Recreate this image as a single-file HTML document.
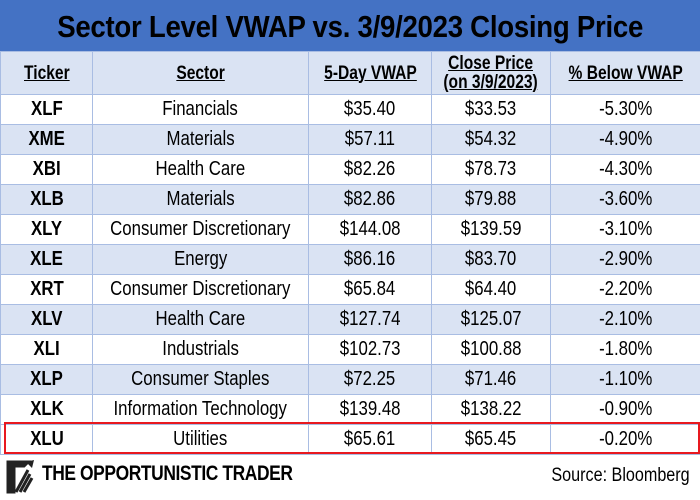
<!DOCTYPE html>
<html><head><meta charset="utf-8"><style>
body{margin:0;width:700px;height:500px;background:#fff;overflow:hidden;font-family:"Liberation Sans",sans-serif;}
#title{position:absolute;left:0;top:0;width:700px;height:51px;background:#4472c4;color:#000;font-weight:bold;font-size:31px;text-align:center;line-height:53px;letter-spacing:-0.3px}
#title span{display:inline-block;transform:scaleX(0.89)}
table{position:absolute;left:0;top:51px;border-collapse:collapse;width:700px;table-layout:fixed}
td,th{border:1px solid #a9bde3;text-align:center;padding:0;font-size:20px;color:#000;white-space:nowrap;overflow:visible}
th{background:#dae3f3;height:42px;font-weight:bold;font-size:19px;line-height:19px}
th span{text-decoration:underline;display:inline-block;transform:scaleX(0.82)}
td span{display:inline-block;transform:scaleX(0.84)}
td{height:29px;font-size:20px}
tr.alt td{background:#dae3f3}
td.t{font-weight:bold}
#hl{position:absolute;left:4px;top:422px;width:692px;height:28px;border:2px solid #e8191f;box-sizing:content-box}
#foot{position:absolute;left:0;top:452px;width:700px;height:48px}
#brand{position:absolute;left:42px;top:10px;font-weight:bold;font-size:21px;letter-spacing:-0.5px;transform:scaleX(0.83);transform-origin:left center;white-space:nowrap}
#src{position:absolute;right:10px;top:13px;font-size:19px;transform:scaleX(0.85);transform-origin:right center;white-space:nowrap}
</style></head><body>
<div id="title"><span>Sector Level VWAP vs. 3/9/2023 Closing Price</span></div>
<table>
<colgroup><col style="width:92px"><col style="width:216px"><col style="width:123px"><col style="width:119px"><col style="width:150px"></colgroup>
<tr>
<th><span>Ticker</span></th>
<th><span>Sector</span></th>
<th><span>5-Day VWAP</span></th>
<th><span>Close Price<br>(on 3/9/2023)</span></th>
<th><span>% Below VWAP</span></th></tr>
<tbody id="body"></tbody>
</table>
<div id="hl"></div>
<div id="foot">
<svg style="position:absolute;left:6px;top:6px" width="30" height="38" viewBox="0 0 30 38">
<path d="M2 4h20l-4 4H8v26H2z M10 34l12-22 M14 34l10-18 M18 34l8-14" stroke="#222" stroke-width="3" fill="#222"/>
<path d="M20 4l8-2-2 8z" fill="#222"/></svg>
<div id="brand">THE OPPORTUNISTIC TRADER</div>
<div id="src">Source: Bloomberg</div>
</div>
<script>
const tickers=["XLF","XME","XBI","XLB","XLY","XLE","XRT","XLV","XLI","XLP","XLK","XLU"];
const sectors=["Financials","Materials","Health Care","Materials","Consumer Discretionary","Energy","Consumer Discretionary","Health Care","Industrials","Consumer Staples","Information Technology","Utilities"];
const vwap=["$35.40","$57.11","$82.26","$82.86","$144.08","$86.16","$65.84","$127.74","$102.73","$72.25","$139.48","$65.61"];
const close=["$33.53","$54.32","$78.73","$79.88","$139.59","$83.70","$64.40","$125.07","$100.88","$71.46","$138.22","$65.45"];
const below=["-5.30%","-4.90%","-4.30%","-3.60%","-3.10%","-2.90%","-2.20%","-2.10%","-1.80%","-1.10%","-0.90%","-0.20%"];
const tb=document.getElementById('body');
tickers.forEach((t,i)=>{
const tr=document.createElement('tr');


if(i%2==1 && i<11)tr.className='alt';
[t,sectors[i],vwap[i],close[i],below[i]].forEach((v,j)=>{
const td=document.createElement('td');


if(j==0)td.className='t';
const sp=document.createElement('span');
sp.textContent=v;td.appendChild(sp);tr.appendChild(td);});
tb.appendChild(tr);});
</script>
</body></html>
